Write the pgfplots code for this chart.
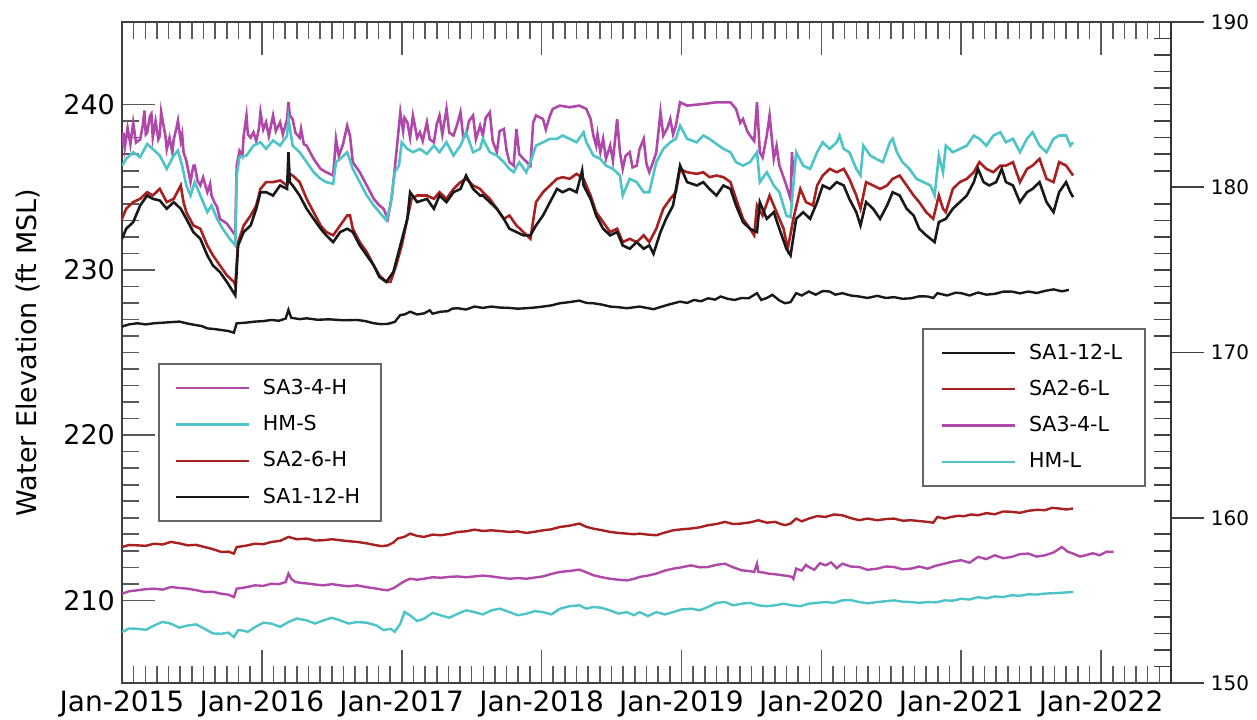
\documentclass[border=0pt]{standalone}
\usepackage{pgfplots}
\pgfplotsset{compat=1.18}
\usepackage{fontspec}
\setmainfont{DejaVu Sans}
\definecolor{cmag}{RGB}{176,72,170}
\definecolor{ccyan}{RGB}{78,196,200}
\definecolor{cred}{RGB}{168,32,32}
\definecolor{cblk}{RGB}{25,25,25}
\begin{document}
\begin{tikzpicture}
\begin{axis}[name=ax, scale only axis, width=524.5pt, height=330.5pt,
  xmin=2015, xmax=2022.5, ymin=205, ymax=245,
  xtick={2015,2016,2017,2018,2019,2020,2021,2022},
  xticklabels={Jan-2015,Jan-2016,Jan-2017,Jan-2018,Jan-2019,Jan-2020,Jan-2021,Jan-2022},
  minor x tick num=11,
  extra x ticks={2022.0833,2022.1667,2022.25,2022.3333,2022.4167},
  extra x tick labels={},
  extra x tick style={major tick length=8.5pt},
  ytick={210,220,230,240}, minor y tick num=9,
  ytick pos=left, xtick pos=both,
  tick align=inside, major tick length=16.5pt, minor tick length=8.5pt,
  axis line style={black!75, line width=0.9pt},
  tick style={black!65, line width=0.8pt},
  /pgf/number format/assume math mode=true,
  yticklabel style={font=\fontsize{13.5}{15}\selectfont},
  xticklabel style={font=\fontsize{14}{16}\selectfont, inner sep=2pt, yshift=-1.5pt},
  ylabel={Water Elevation (ft MSL)},
  ylabel style={font=\fontsize{13.5}{16}\selectfont, at={(axis description cs:-0.0896,0.5)}, anchor=center},
  legend cell align=left,
  legend image code/.code={\draw[#1, line width=1.1pt] (0pt,0pt) -- (36.5pt,0pt);},
  legend style={at={(rel axis cs:0.0343,0.2436)}, anchor=south west, draw=black!60, line width=0.8pt,
    font=\fontsize{10.3}{12}\selectfont, inner xsep=8pt, inner ysep=5pt, row sep=4pt, column sep=4pt,
    nodes={inner sep=2.5pt}},
]
% SA3-4-H
\addplot[cmag, line width=1.3pt] coordinates {
(2015.00,237.5)(2015.01,238.3)(2015.02,237.4)(2015.04,238.6)(2015.06,237.6)(2015.08,238.9)(2015.10,237.7)(2015.13,237.9)(2015.15,238.8)(2015.16,239.64)(2015.17,238.2)(2015.18,238.3)(2015.20,239.3)(2015.21,239.44)(2015.22,238.0)(2015.24,239.0)(2015.26,237.9)(2015.27,238.1)(2015.28,239.54)(2015.30,238.6)(2015.31,238.13)(2015.32,237.3)(2015.34,238.0)(2015.36,237.1)(2015.37,237.9)(2015.39,238.6)(2015.40,239.03)(2015.42,237.8)(2015.43,238.2)(2015.44,237.12)(2015.46,236.6)(2015.49,235.31)(2015.51,236.3)(2015.52,236.31)(2015.54,235.4)(2015.56,235.11)(2015.58,235.6)(2015.61,234.7)(2015.63,235.2)(2015.64,234.50)(2015.66,234.10)(2015.68,233.8)(2015.70,233.09)(2015.75,232.8)(2015.81,232.09)(2015.82,236.31)(2015.84,237.2)(2015.86,236.9)(2015.87,238.13)(2015.89,239.34)(2015.90,238.2)(2015.92,238.0)(2015.94,238.33)(2015.96,237.8)(2015.98,238.6)(2015.99,239.54)(2016.01,238.5)(2016.03,238.93)(2016.05,238.1)(2016.08,239.34)(2016.10,238.4)(2016.13,238.93)(2016.15,238.2)(2016.18,239.1)(2016.19,240.14)(2016.20,239.34)(2016.22,239.13)(2016.24,238.3)(2016.27,238.0)(2016.28,238.53)(2016.30,237.6)(2016.32,237.52)(2016.37,236.72)(2016.42,236.11)(2016.46,235.91)(2016.51,235.71)(2016.53,237.93)(2016.55,236.9)(2016.56,237.12)(2016.58,237.6)(2016.61,238.73)(2016.63,238.13)(2016.65,236.52)(2016.70,235.91)(2016.75,235.11)(2016.80,234.30)(2016.84,233.90)(2016.87,233.70)(2016.90,233.09)(2016.93,234.50)(2016.95,236.11)(2016.99,239.54)(2017.01,238.4)(2017.02,239.2)(2017.04,238.93)(2017.06,238.0)(2017.08,239.34)(2017.11,238.0)(2017.13,238.33)(2017.15,237.8)(2017.18,238.93)(2017.20,237.9)(2017.23,237.72)(2017.25,238.8)(2017.27,239.34)(2017.29,238.2)(2017.32,239.74)(2017.34,238.3)(2017.37,238.13)(2017.40,238.9)(2017.42,239.54)(2017.44,238.0)(2017.46,238.13)(2017.48,239.0)(2017.51,239.34)(2017.53,237.9)(2017.56,238.73)
(2017.58,238.13)(2017.60,239.2)(2017.63,239.54)(2017.65,237.8)(2017.68,237.12)(2017.70,238.4)(2017.73,238.53)(2017.75,237.2)(2017.77,236.52)(2017.80,236.31)(2017.82,238.53)(2017.84,237.0)(2017.87,236.72)(2017.92,236.31)(2017.94,238.93)(2017.96,239.34)(2018.01,239.13)(2018.03,238.5)(2018.06,239.34)(2018.08,239.74)(2018.13,239.94)(2018.20,239.84)(2018.27,239.94)(2018.32,239.74)(2018.35,239.13)(2018.37,238.13)(2018.39,237.52)(2018.40,238.2)(2018.42,237.12)(2018.44,237.93)(2018.46,236.72)(2018.49,237.52)(2018.51,236.6)(2018.54,239.13)(2018.56,237.12)(2018.58,236.11)(2018.60,236.9)(2018.63,237.12)(2018.65,236.2)(2018.68,236.31)(2018.70,237.3)(2018.73,237.93)(2018.75,236.4)(2018.77,235.91)(2018.80,236.6)(2018.82,237.12)(2018.85,239.54)(2018.87,238.13)(2018.90,238.6)(2018.92,239.13)(2018.94,238.2)(2018.96,238.73)(2018.99,240.14)(2019.04,239.94)(2019.156,240.04)(2019.25,240.14)(2019.35,240.14)(2019.39,239.74)(2019.42,238.9)(2019.44,239.13)(2019.47,238.4)(2019.49,238.13)(2019.52,237.8)(2019.54,240.14)(2019.56,237.12)(2019.58,236.8)(2019.61,238.13)(2019.63,239.34)(2019.66,236.72)(2019.68,237.5)(2019.70,236.31)(2019.73,235.6)(2019.75,235.11)(2019.78,234.30)(2019.79,237.12)(2019.80,235.71)
};
\addlegendentry{SA3-4-H}
% HM-S
\addplot[ccyan, line width=1.3pt] coordinates {
(2015.00,236.31)(2015.03,236.72)(2015.08,237.12)(2015.13,236.82)(2015.18,237.62)(2015.22,237.32)(2015.27,236.92)(2015.32,236.11)(2015.37,236.92)(2015.40,237.22)(2015.43,236.31)(2015.46,235.11)(2015.49,234.50)(2015.52,235.31)(2015.56,234.50)(2015.61,233.49)(2015.64,233.90)(2015.68,233.09)(2015.72,232.49)(2015.77,231.88)(2015.81,231.48)(2015.82,235.71)(2015.84,236.82)(2015.89,236.92)(2015.94,237.52)(2015.99,237.72)(2016.03,237.32)(2016.08,237.83)(2016.13,237.52)(2016.18,238.13)(2016.19,239.13)(2016.22,237.52)(2016.27,237.12)(2016.32,236.52)(2016.37,235.91)(2016.42,235.51)(2016.46,235.31)(2016.51,235.21)(2016.53,236.52)(2016.56,236.72)(2016.61,237.12)(2016.65,236.11)(2016.70,235.31)(2016.75,234.50)(2016.80,233.90)(2016.84,233.49)(2016.89,233.0)(2016.92,233.90)(2016.95,235.91)(2016.98,236.31)(2017.00,237.72)(2017.04,237.32)(2017.08,237.12)(2017.13,237.32)(2017.18,237.02)(2017.23,237.52)(2017.27,237.12)(2017.32,237.72)(2017.37,236.92)(2017.42,237.52)(2017.46,238.33)(2017.51,237.12)(2017.56,237.32)
(2017.58,237.93)(2017.63,237.12)(2017.68,236.92)(2017.73,236.52)(2017.77,236.11)(2017.80,235.91)(2017.84,236.52)(2017.89,235.91)(2017.92,236.52)(2017.96,237.52)(2018.01,237.72)(2018.06,237.93)(2018.11,237.93)(2018.15,238.13)(2018.20,237.93)(2018.25,237.72)(2018.30,238.33)(2018.32,237.72)(2018.37,236.92)(2018.42,236.72)(2018.46,236.31)(2018.51,236.11)(2018.56,235.71)(2018.58,234.50)(2018.63,235.51)(2018.68,235.31)(2018.73,234.70)(2018.77,234.70)(2018.82,236.52)(2018.87,237.32)(2018.92,237.72)(2018.96,237.93)(2018.99,238.73)(2019.04,237.93)(2019.11,237.72)(2019.156,238.13)(2019.20,237.93)(2019.25,237.62)(2019.30,237.32)(2019.35,237.12)(2019.39,236.52)(2019.44,236.31)(2019.49,236.52)(2019.54,237.12)(2019.56,235.31)(2019.61,235.91)(2019.66,235.11)(2019.70,234.70)(2019.75,233.29)(2019.78,233.19)(2019.80,235.11)(2019.82,237.12)(2019.87,236.31)(2019.92,236.11)(2019.97,237.12)
(2020.01,237.72)(2020.06,237.32)(2020.11,237.72)(2020.13,238.13)(2020.16,237.32)(2020.20,237.12)(2020.25,236.11)(2020.28,235.71)(2020.30,237.52)(2020.35,236.92)(2020.39,236.72)(2020.44,236.52)(2020.49,237.72)(2020.51,237.93)(2020.54,237.12)(2020.58,236.52)(2020.63,236.11)(2020.68,235.51)(2020.73,235.31)(2020.78,235.11)(2020.81,234.50)(2020.84,236.92)(2020.87,235.91)(2020.89,237.52)(2020.94,237.12)(2020.99,237.32)(2021.04,237.52)(2021.09,238.13)(2021.13,237.93)(2021.18,237.52)(2021.23,238.13)(2021.28,238.33)(2021.32,237.72)(2021.37,237.93)(2021.42,237.12)(2021.47,237.93)(2021.51,238.33)(2021.56,237.52)(2021.61,237.12)(2021.66,237.93)(2021.70,238.13)(2021.75,238.13)(2021.78,237.52)(2021.80,237.72)
};
\addlegendentry{HM-S}
% SA2-6-H
\addplot[cred, line width=1.3pt] coordinates {
(2015.00,233.09)(2015.03,233.70)(2015.08,234.10)(2015.13,234.30)(2015.18,234.70)(2015.22,234.50)(2015.27,234.90)(2015.32,234.10)(2015.37,234.30)(2015.42,235.11)(2015.44,234.10)(2015.46,233.49)(2015.51,232.69)(2015.56,232.49)(2015.61,231.48)(2015.65,230.88)(2015.70,230.27)(2015.75,229.67)(2015.80,229.27)(2015.81,229.06)(2015.83,231.68)(2015.87,232.69)(2015.92,233.29)(2015.96,233.90)(2015.99,234.90)(2016.03,235.31)(2016.08,235.31)(2016.13,235.41)(2016.18,235.11)(2016.20,235.81)(2016.22,235.71)(2016.27,235.31)(2016.32,234.30)(2016.37,233.49)(2016.42,232.69)(2016.46,232.29)(2016.51,232.09)(2016.56,232.69)(2016.61,233.29)(2016.63,233.29)(2016.65,232.49)(2016.70,231.68)(2016.75,231.08)(2016.80,230.27)(2016.84,229.67)(2016.89,229.27)(2016.92,229.27)(2016.96,230.27)(2017.00,231.48)(2017.04,233.09)(2017.07,234.30)(2017.11,234.50)(2017.18,234.50)(2017.23,234.30)(2017.27,234.70)(2017.32,234.30)(2017.37,234.90)(2017.42,235.31)(2017.46,235.51)(2017.51,235.11)(2017.56,234.90)
(2017.58,234.70)(2017.63,234.30)(2017.68,233.70)(2017.73,233.09)(2017.77,233.29)(2017.82,232.69)(2017.87,232.29)(2017.92,231.88)(2017.96,234.10)(2018.01,234.70)(2018.06,235.11)(2018.11,235.51)(2018.15,235.61)(2018.20,235.51)(2018.25,235.81)(2018.30,235.51)(2018.35,234.50)(2018.39,233.49)(2018.44,232.89)(2018.49,232.29)(2018.54,232.49)(2018.58,231.68)(2018.63,231.88)(2018.68,231.68)(2018.73,232.09)(2018.77,231.68)(2018.82,232.49)(2018.87,233.70)(2018.92,234.30)(2018.96,234.70)(2018.99,236.11)(2019.04,235.91)(2019.11,235.81)(2019.156,235.91)(2019.20,235.61)(2019.25,235.71)(2019.30,235.61)(2019.35,235.31)(2019.39,234.30)(2019.44,233.09)(2019.49,232.49)(2019.52,232.09)(2019.54,233.90)(2019.58,233.29)(2019.63,234.50)(2019.68,233.49)(2019.73,232.49)(2019.76,231.28)(2019.80,233.09)(2019.85,234.90)(2019.89,234.10)(2019.94,233.90)(2019.97,235.11)
(2020.01,235.71)(2020.06,236.11)(2020.11,235.91)(2020.16,236.11)(2020.20,235.51)(2020.25,234.50)(2020.28,233.70)(2020.32,235.31)(2020.37,235.11)(2020.42,234.90)(2020.47,235.11)(2020.51,235.51)(2020.56,235.71)(2020.61,235.11)(2020.66,234.50)(2020.70,234.10)(2020.75,233.49)(2020.80,233.09)(2020.84,234.50)(2020.87,233.70)(2020.89,233.49)(2020.94,234.90)(2020.99,235.31)(2021.04,235.51)(2021.09,235.91)(2021.13,236.52)(2021.18,236.11)(2021.23,235.91)(2021.28,236.31)(2021.32,236.31)(2021.37,236.52)(2021.42,235.31)(2021.47,236.11)(2021.51,236.31)(2021.56,236.72)(2021.61,235.51)(2021.66,235.31)(2021.70,236.52)(2021.75,236.31)(2021.80,235.71)
};
\addlegendentry{SA2-6-H}
% SA1-12-H
\addplot[cblk, line width=1.3pt] coordinates {
(2015.00,231.88)(2015.03,232.49)(2015.08,232.89)(2015.13,233.90)(2015.18,234.50)(2015.22,234.30)(2015.27,234.20)(2015.32,233.70)(2015.37,234.10)(2015.42,233.70)(2015.46,233.09)(2015.51,232.29)(2015.56,231.88)(2015.61,230.88)(2015.65,230.27)(2015.70,229.87)(2015.75,229.27)(2015.81,228.46)(2015.83,231.48)(2015.87,232.29)(2015.92,232.69)(2015.96,233.70)(2015.99,234.70)(2016.03,234.70)(2016.08,234.50)(2016.13,235.11)(2016.18,234.90)(2016.19,237.12)(2016.20,235.31)(2016.22,235.11)(2016.27,234.50)(2016.32,233.70)(2016.37,233.09)(2016.42,232.49)(2016.46,232.09)(2016.51,231.68)(2016.56,232.29)(2016.61,232.49)(2016.65,232.29)(2016.70,231.48)(2016.75,230.88)(2016.80,230.27)(2016.84,229.57)(2016.89,229.27)(2016.94,229.87)(2016.99,231.48)(2017.04,233.09)(2017.06,234.70)(2017.11,234.10)(2017.18,234.30)(2017.23,233.70)(2017.27,234.50)(2017.32,234.10)(2017.37,234.70)(2017.42,234.90)(2017.46,235.71)(2017.51,234.90)(2017.56,234.50)
(2017.58,234.50)(2017.63,234.10)(2017.68,233.70)(2017.73,233.09)(2017.77,232.49)(2017.82,232.29)(2017.87,232.09)(2017.92,232.09)(2017.96,232.69)(2018.01,233.29)(2018.06,234.10)(2018.11,234.90)(2018.15,234.70)(2018.20,234.90)(2018.25,234.70)(2018.29,236.01)(2018.30,235.11)(2018.35,234.30)(2018.39,233.29)(2018.44,232.49)(2018.49,232.09)(2018.54,232.29)(2018.58,231.48)(2018.63,231.28)(2018.68,231.68)(2018.73,231.28)(2018.77,231.48)(2018.80,230.98)(2018.85,232.29)(2018.89,233.09)(2018.94,233.90)(2018.99,236.31)(2019.04,235.31)(2019.11,235.11)(2019.156,235.31)(2019.20,234.90)(2019.25,234.50)(2019.30,235.11)(2019.35,234.90)(2019.39,233.90)(2019.44,232.89)(2019.49,232.49)(2019.54,232.29)(2019.56,234.10)(2019.61,233.09)(2019.66,233.49)(2019.70,232.49)(2019.75,231.28)(2019.78,230.88)(2019.82,233.09)(2019.87,233.49)(2019.92,233.09)(2019.97,234.10)
(2020.01,235.11)(2020.06,234.90)(2020.11,235.31)(2020.16,235.11)(2020.20,234.30)(2020.25,233.49)(2020.28,232.69)(2020.32,234.10)(2020.37,233.70)(2020.42,233.09)(2020.47,233.90)(2020.51,234.70)(2020.56,234.50)(2020.61,233.70)(2020.66,233.29)(2020.70,232.49)(2020.75,232.09)(2020.81,231.68)(2020.84,232.89)(2020.89,233.09)(2020.94,233.70)(2020.99,234.10)(2021.04,234.50)(2021.09,235.31)(2021.12,236.11)(2021.16,235.31)(2021.20,235.11)(2021.25,235.31)(2021.29,236.11)(2021.32,235.31)(2021.37,235.11)(2021.42,234.10)(2021.47,234.70)(2021.51,234.90)(2021.56,235.31)(2021.61,234.10)(2021.66,233.49)(2021.70,234.70)(2021.75,235.31)(2021.78,234.70)(2021.80,234.40)
};
\addlegendentry{SA1-12-H}
\end{axis}
\begin{axis}[scale only axis, width=524.5pt, height=330.5pt,
  at={(ax.south west)}, anchor=south west,
  xmin=2015, xmax=2022.5, ymin=150, ymax=190,
  axis x line=none, axis y line*=right,
  ytick={150,160,170,180,190}, minor y tick num=9,
  tick align=outside, major tick length=16.5pt, minor tick length=-8.5pt,
  axis line style={black!80, line width=0.9pt},
  tick style={black!75, line width=0.8pt},
  /pgf/number format/assume math mode=true,
  yticklabel style={font=\fontsize{10}{12}\selectfont},
  legend cell align=left,
  legend image code/.code={\draw[#1, line width=1.1pt] (0pt,0pt) -- (36.5pt,0pt);},
  legend style={at={(rel axis cs:0.9762,0.537)}, anchor=north east, draw=black!60, line width=0.8pt,
    font=\fontsize{10.3}{12}\selectfont, inner xsep=9pt, inner ysep=5pt, row sep=4pt, column sep=4pt,
    nodes={inner sep=2.5pt}},
]
% SA1-12-L
\addplot[cblk, line width=1.2pt] coordinates {
(2015.00,171.57)(2015.05,171.70)(2015.11,171.77)(2015.17,171.70)(2015.23,171.77)(2015.32,171.82)(2015.41,171.87)(2015.47,171.75)(2015.52,171.67)(2015.57,171.60)(2015.61,171.46)(2015.66,171.42)(2015.71,171.36)(2015.76,171.30)(2015.80,171.20)(2015.82,171.77)(2015.88,171.80)(2015.95,171.87)(2016.01,171.90)(2016.07,171.97)(2016.12,171.92)(2016.17,172.05)(2016.19,172.58)(2016.21,172.10)(2016.27,172.02)(2016.32,172.07)(2016.40,171.98)(2016.48,172.01)(2016.58,171.95)(2016.68,171.97)(2016.74,171.90)(2016.80,171.77)(2016.85,171.72)(2016.90,171.73)(2016.95,171.85)(2016.99,172.27)(2017.02,172.30)(2017.06,172.47)(2017.11,172.30)(2017.16,172.37)(2017.20,172.55)(2017.22,172.35)(2017.28,172.47)(2017.33,172.50)(2017.36,172.65)(2017.40,172.68)(2017.46,172.60)(2017.52,172.78)(2017.58,172.70)(2017.64,172.78)(2017.70,172.72)(2017.77,172.70)(2017.83,172.65)(2017.89,172.68)(2017.95,172.72)(2018.01,172.78)(2018.07,172.85)(2018.13,172.98)(2018.20,173.05)(2018.27,173.14)(2018.32,173.00)(2018.37,172.98)(2018.43,172.90)(2018.49,172.78)(2018.55,172.74)(2018.61,172.68)
(2018.70,172.78)(2018.80,172.62)(2018.90,172.88)(2018.99,173.08)(2019.04,173.00)(2019.09,173.18)(2019.14,173.10)(2019.19,173.28)(2019.24,173.20)(2019.28,173.39)(2019.33,173.25)(2019.38,173.18)(2019.43,173.30)(2019.48,173.28)(2019.54,173.59)(2019.57,173.18)(2019.61,173.30)(2019.65,173.49)(2019.70,173.15)(2019.74,172.98)(2019.78,173.05)(2019.82,173.59)(2019.86,173.45)(2019.91,173.69)(2019.96,173.50)(2020.01,173.72)(2020.06,173.69)(2020.10,173.50)(2020.15,173.59)(2020.21,173.45)(2020.27,173.39)(2020.33,173.30)(2020.40,173.43)(2020.46,173.30)(2020.52,173.35)(2020.58,173.25)(2020.64,173.28)(2020.70,173.40)(2020.76,173.39)(2020.80,173.30)(2020.83,173.59)(2020.90,173.45)(2020.96,173.62)(2021.00,173.59)(2021.06,173.45)(2021.12,173.63)(2021.18,173.50)(2021.24,173.55)(2021.30,173.68)(2021.36,173.69)(2021.42,173.58)(2021.48,173.69)(2021.54,173.60)(2021.60,173.73)(2021.66,173.82)(2021.72,173.70)(2021.77,173.79)
};
\addlegendentry{SA1-12-L}
% SA2-6-L
\addplot[cred, line width=1.2pt] coordinates {
(2015.00,158.23)(2015.05,158.35)(2015.11,158.33)(2015.17,158.30)(2015.23,158.43)(2015.29,158.38)(2015.35,158.54)(2015.41,158.45)(2015.47,158.33)(2015.53,158.36)(2015.59,158.23)(2015.65,158.10)(2015.71,157.93)(2015.76,157.95)(2015.80,157.83)(2015.82,158.23)(2015.88,158.30)(2015.95,158.43)(2016.01,158.40)(2016.07,158.54)(2016.13,158.60)(2016.19,158.84)(2016.25,158.70)(2016.32,158.74)(2016.38,158.62)(2016.44,158.64)(2016.50,158.70)(2016.56,158.64)(2016.62,158.58)(2016.68,158.54)(2016.75,158.45)(2016.82,158.33)(2016.86,158.28)(2016.90,158.33)(2016.94,158.50)(2016.97,158.74)(2017.02,158.85)(2017.06,159.04)(2017.11,158.90)(2017.16,158.84)(2017.22,158.98)(2017.28,158.94)(2017.34,159.02)(2017.40,159.14)(2017.46,159.18)(2017.52,159.28)(2017.58,159.20)(2017.64,159.24)(2017.70,159.20)(2017.77,159.14)(2017.83,159.18)(2017.89,159.08)(2017.95,159.15)(2018.01,159.24)(2018.07,159.30)(2018.13,159.44)(2018.20,159.52)(2018.27,159.65)(2018.32,159.45)(2018.37,159.34)(2018.43,159.25)(2018.49,159.14)(2018.55,159.08)(2018.61,159.04)(2018.66,159.00)
(2018.70,159.04)(2018.76,158.98)(2018.82,158.94)(2018.88,159.10)(2018.94,159.24)(2019.00,159.30)(2019.07,159.35)(2019.13,159.42)(2019.19,159.55)(2019.25,159.62)(2019.31,159.75)(2019.37,159.62)(2019.43,159.65)(2019.49,159.72)(2019.55,159.85)(2019.61,159.70)(2019.67,159.75)(2019.71,159.62)(2019.74,159.55)(2019.78,159.65)(2019.82,159.95)(2019.86,159.78)(2019.91,159.95)(2019.97,160.10)(2020.03,160.05)(2020.09,160.20)(2020.15,160.15)(2020.21,159.98)(2020.27,159.85)(2020.33,159.95)(2020.40,159.85)(2020.46,159.92)(2020.52,159.95)(2020.58,159.82)(2020.64,159.85)(2020.70,159.80)(2020.76,159.75)(2020.80,159.70)(2020.83,160.05)(2020.88,159.95)(2020.93,160.05)(2020.98,160.12)(2021.02,160.09)(2021.07,160.20)(2021.12,160.15)(2021.18,160.28)(2021.24,160.21)(2021.30,160.38)(2021.36,160.36)(2021.42,160.30)(2021.48,160.42)(2021.54,160.48)(2021.60,160.46)(2021.65,160.60)(2021.70,160.56)(2021.75,160.50)(2021.80,160.56)
};
\addlegendentry{SA2-6-L}
% SA3-4-L
\addplot[cmag, line width=1.2pt] coordinates {
(2015.00,155.40)(2015.05,155.55)(2015.11,155.61)(2015.17,155.68)(2015.23,155.71)(2015.29,155.65)(2015.35,155.81)(2015.41,155.75)(2015.47,155.71)(2015.53,155.62)(2015.59,155.51)(2015.65,155.52)(2015.71,155.40)(2015.76,155.35)(2015.80,155.20)(2015.82,155.71)(2015.88,155.78)(2015.95,155.91)(2016.01,155.88)(2016.07,156.01)(2016.12,155.98)(2016.17,156.11)(2016.19,156.62)(2016.21,156.30)(2016.24,156.11)(2016.29,156.05)(2016.34,156.01)(2016.39,155.95)(2016.44,155.91)(2016.50,155.98)(2016.56,155.91)(2016.62,155.85)(2016.68,155.91)(2016.75,155.80)(2016.82,155.71)(2016.86,155.65)(2016.90,155.61)(2016.95,155.78)(2016.99,156.01)(2017.03,156.20)(2017.06,156.31)(2017.11,156.25)(2017.16,156.31)(2017.22,156.40)(2017.28,156.37)(2017.34,156.42)(2017.40,156.45)(2017.46,156.40)(2017.52,156.45)(2017.58,156.50)(2017.64,156.45)(2017.70,156.38)(2017.77,156.31)(2017.83,156.35)(2017.89,156.31)(2017.95,156.38)(2018.01,156.45)(2018.07,156.60)(2018.13,156.72)(2018.20,156.78)(2018.27,156.86)(2018.32,156.70)(2018.37,156.52)(2018.43,156.40)(2018.49,156.31)(2018.55,156.25)(2018.61,156.21)(2018.66,156.30)
(2018.70,156.42)(2018.76,156.50)(2018.82,156.62)(2018.88,156.80)(2018.94,156.92)(2019.00,157.00)(2019.07,157.12)(2019.13,157.00)(2019.19,157.02)(2019.25,157.15)(2019.31,157.22)(2019.37,157.00)(2019.43,156.82)(2019.48,156.78)(2019.52,156.72)(2019.54,157.22)(2019.55,156.72)(2019.59,156.68)(2019.62,156.62)(2019.67,156.58)(2019.72,156.52)(2019.76,156.48)(2019.79,156.42)(2019.80,156.30)(2019.82,156.92)(2019.86,156.80)(2019.89,157.15)(2019.91,157.02)(2019.95,156.85)(2019.99,157.25)(2020.03,157.12)(2020.07,157.30)(2020.11,156.95)(2020.15,157.22)(2020.21,157.05)(2020.27,157.02)(2020.33,156.85)(2020.40,156.92)(2020.46,157.05)(2020.52,157.02)(2020.58,156.88)(2020.64,156.92)(2020.70,157.05)(2020.76,156.92)(2020.82,157.10)(2020.88,157.22)(2020.94,157.35)(2021.00,157.43)(2021.06,157.28)(2021.12,157.63)(2021.18,157.50)(2021.24,157.73)(2021.30,157.55)(2021.36,157.63)(2021.42,157.80)(2021.48,157.83)(2021.54,157.65)(2021.60,157.73)(2021.66,157.90)(2021.72,158.23)(2021.76,157.95)(2021.80,157.83)(2021.85,157.65)(2021.89,157.73)(2021.94,157.85)(2021.99,157.73)(2022.04,157.95)(2022.09,157.93)
};
\addlegendentry{SA3-4-L}
% HM-L
\addplot[ccyan, line width=1.2pt] coordinates {
(2015.00,153.08)(2015.05,153.30)(2015.11,153.28)(2015.17,153.22)(2015.23,153.48)(2015.29,153.70)(2015.35,153.59)(2015.41,153.35)(2015.47,153.48)(2015.53,153.55)(2015.59,153.28)(2015.65,153.00)(2015.71,152.98)(2015.76,153.05)(2015.80,152.78)(2015.83,153.20)(2015.86,153.18)(2015.90,153.10)(2015.95,153.38)(2016.01,153.65)(2016.07,153.59)(2016.13,153.40)(2016.19,153.69)(2016.25,153.90)(2016.32,153.79)(2016.38,153.60)(2016.44,153.79)(2016.50,153.95)(2016.56,153.79)(2016.62,153.60)(2016.68,153.69)(2016.75,153.65)(2016.82,153.48)(2016.87,153.20)(2016.92,153.28)(2016.95,153.10)(2016.99,153.59)(2017.02,154.30)(2017.06,154.09)(2017.11,153.75)(2017.16,153.89)(2017.22,154.25)(2017.28,154.09)(2017.34,153.95)(2017.40,154.19)(2017.46,154.40)(2017.52,154.29)(2017.58,154.15)(2017.64,154.39)(2017.70,154.50)(2017.77,154.29)(2017.83,154.10)(2017.89,154.19)(2017.95,154.35)(2018.01,154.29)(2018.07,154.15)(2018.13,154.49)(2018.20,154.65)(2018.27,154.70)(2018.32,154.50)(2018.37,154.60)(2018.43,154.55)(2018.49,154.39)(2018.55,154.20)(2018.61,154.29)(2018.66,154.10)
(2018.70,154.29)(2018.76,154.05)(2018.82,154.29)(2018.88,154.15)(2018.94,154.29)(2019.00,154.45)(2019.07,154.50)(2019.13,154.40)(2019.19,154.60)(2019.25,154.85)(2019.31,154.90)(2019.37,154.70)(2019.43,154.80)(2019.49,154.85)(2019.55,154.70)(2019.61,154.65)(2019.67,154.70)(2019.73,154.80)(2019.79,154.70)(2019.85,154.65)(2019.91,154.80)(2019.97,154.85)(2020.03,154.90)(2020.09,154.85)(2020.15,155.00)(2020.21,155.02)(2020.27,154.90)(2020.33,154.82)(2020.40,154.90)(2020.46,154.95)(2020.52,155.00)(2020.58,154.92)(2020.64,154.90)(2020.70,154.85)(2020.76,154.90)(2020.82,154.88)(2020.88,155.00)(2020.94,154.98)(2021.00,155.10)(2021.06,155.05)(2021.12,155.20)(2021.18,155.12)(2021.24,155.24)(2021.30,155.20)(2021.36,155.31)(2021.42,155.28)(2021.48,155.37)(2021.54,155.35)(2021.60,155.41)(2021.70,155.45)(2021.80,155.51)
};
\addlegendentry{HM-L}
\end{axis}
\pgfresetboundingbox
\useasboundingbox ([shift={(-61pt,-18pt)}]ax.south west) rectangle ([shift={(43pt,11pt)}]ax.north east);
\end{tikzpicture}
\end{document}
